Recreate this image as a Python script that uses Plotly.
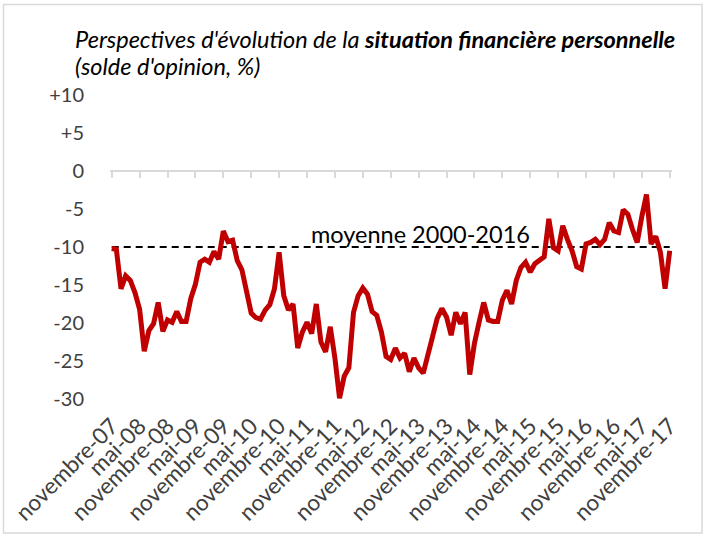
import plotly.graph_objects as go

# ---------------- data ----------------
tick_labels = ["novembre-07", "mai-08", "novembre-08", "mai-09", "novembre-09",
               "mai-10", "novembre-10", "mai-11", "novembre-11", "mai-12",
               "novembre-12", "mai-13", "novembre-13", "mai-14", "novembre-14",
               "mai-15", "novembre-15", "mai-16", "novembre-16", "mai-17",
               "novembre-17"]

solde = [-10.2, -10.3, -15.5, -13.8, -14.4, -16.0, -18.2, -23.7, -21.0, -20.1,
         -17.3, -21.1, -19.6, -19.9, -18.5, -19.8, -19.8, -16.8, -14.9, -12.0,
         -11.6, -12.0, -10.6, -11.6, -7.9, -9.3, -9.1, -11.8, -13.0, -15.9,
         -18.7, -19.3, -19.5, -18.3, -17.6, -15.5, -10.7, -16.4, -18.3, -17.5,
         -23.3, -21.2, -19.9, -21.4, -17.5, -22.5, -23.8, -20.5, -24.6, -29.9,
         -27.0, -25.9, -18.6, -16.4, -15.4, -16.2, -18.5, -19.0, -21.2, -24.4,
         -24.8, -23.3, -24.6, -24.0, -26.4, -24.6, -25.9, -26.6, -24.2, -21.6,
         -19.4, -18.1, -19.2, -21.6, -18.6, -20.1, -18.6, -26.8, -22.7, -19.9,
         -17.3, -19.6, -19.8, -19.8, -17.0, -15.7, -17.5, -14.4, -12.7, -12.0,
         -13.3, -12.2, -11.8, -11.3, -6.3, -10.1, -10.5, -7.2, -9.0, -10.5,
         -12.6, -12.9, -9.6, -9.4, -9.0, -9.7, -9.0, -6.8, -7.9, -8.1,
         -5.1, -5.7, -7.7, -9.4, -6.0, -3.1, -9.6, -8.6, -10.7, -15.5,
         -10.5]

moyenne_value = -10
moyenne_label = "moyenne 2000-2016"

y_tick_values = [-30, -25, -20, -15, -10, -5, 0, 5, 10]
y_tick_text = ["-30", "-25", "-20", "-15", "-10", "-5", "0", "+5", "+10"]

title_line1 = "Perspectives d'évolution de la <b>situation financière personnelle</b>"
title_line2 = "(solde d'opinion, %)"

# ---------------- layout geometry ----------------
W, H = 705, 535
ML, MR, MT, MB = 110, 33, 95, 136
PW, PH = W - ML - MR, H - MT - MB
FONT = "Lato"
TXT = "#404040"

months = list(range(len(solde)))
tick_pos = months[::6]
x_range = [-0.366, len(solde) - 1 + 0.49]
y_range = [min(y_tick_values), max(y_tick_values)]


def px_x(p):
    return (p - ML) / PW


def px_y(p):
    return (H - MB - p) / PH


fig = go.Figure()

fig.add_trace(go.Scatter(
    x=[months[0], months[-1]], y=[moyenne_value, moyenne_value],
    mode="lines", line=dict(color="black", width=1.8, dash="7px,5px"),
    hoverinfo="skip", showlegend=False))

fig.add_trace(go.Scatter(
    x=months, y=solde, mode="lines",
    line=dict(color="#C00000", width=5),
    showlegend=False))

fig.update_layout(
    width=W, height=H, autosize=False,
    margin=dict(l=ML, r=MR, t=MT, b=MB, autoexpand=False),
    paper_bgcolor="white", plot_bgcolor="white",
    font=dict(family=FONT, color=TXT),
    xaxis=dict(
        range=x_range, tickmode="array", tickvals=tick_pos, ticktext=tick_labels,
        tickangle=-45, tickfont=dict(size=22.5, color=TXT, family=FONT),
        ticks="outside", ticklen=4, tickcolor="rgba(0,0,0,0)", automargin=False,
        showgrid=False, zeroline=False, showline=False),
    xaxis2=dict(
        overlaying="x", anchor="free", position=(0 - y_range[0]) / (y_range[1] - y_range[0]),
        range=x_range, tickmode="array", tickvals=tick_pos, automargin=False,
        ticks="outside", ticklen=6, tickwidth=1.5, tickcolor="#d9d9d9",
        showline=True, linecolor="#d9d9d9", linewidth=1.5,
        showticklabels=False, showgrid=False, zeroline=False),
    yaxis=dict(
        range=y_range, tickmode="array", tickvals=y_tick_values, ticktext=y_tick_text,
        tickfont=dict(size=20, color=TXT, family=FONT), automargin=False,
        ticks="outside", ticklen=21, tickcolor="rgba(0,0,0,0)",
        showgrid=False, zeroline=False, showline=False),
)

# invisible trace so that xaxis2 is rendered
fig.add_trace(go.Scatter(x=[months[0]], y=[moyenne_value], xaxis="x2", mode="markers",
                         marker=dict(opacity=0), hoverinfo="skip", showlegend=False))

fig.add_annotation(xref="paper", yref="paper", x=px_x(73), y=px_y(39),
                   xanchor="left", yanchor="middle", showarrow=False,
                   text="<i>" + title_line1 + "</i>",
                   font=dict(size=23.5, color="black", family=FONT))
fig.add_annotation(xref="paper", yref="paper", x=px_x(73), y=px_y(66),
                   xanchor="left", yanchor="middle", showarrow=False,
                   text="<i>" + title_line2 + "</i>",
                   font=dict(size=23.5, color="black", family=FONT))
fig.add_annotation(xref="x", yref="y", x=66.3, y=moyenne_value,
                   xanchor="center", yanchor="bottom", yshift=-3, showarrow=False,
                   text=moyenne_label, font=dict(size=23.5, color="black", family=FONT))

fig.add_shape(type="rect", xref="paper", yref="paper",
              x0=px_x(3.5), x1=px_x(702), y0=px_y(533), y1=px_y(4.5),
              line=dict(color="#d9d9d9", width=1.5), fillcolor="rgba(0,0,0,0)",
              layer="below")

fig.write_html("out.html", config={"displayModeBar": False},
               post_script="document.body.style.margin='0';")
